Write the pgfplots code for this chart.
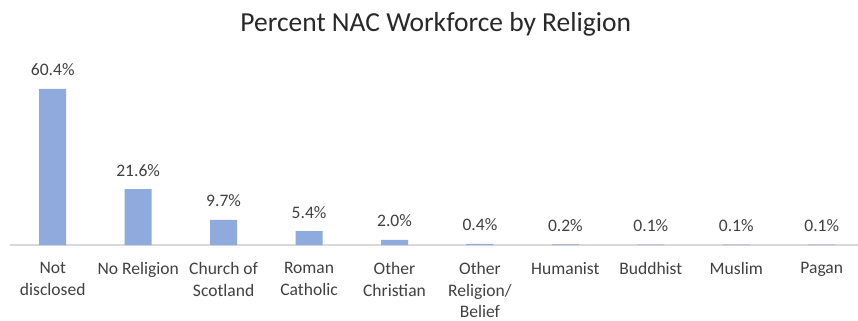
\documentclass[border=0pt]{standalone}
\usepackage{fontspec}
\setmainfont{Carlito}
\usepackage{pgfplots}
\pgfplotsset{compat=1.18}
\definecolor{barblue}{RGB}{143,170,220}
\definecolor{axgray}{RGB}{217,217,217}
\definecolor{txtgray}{RGB}{64,64,64}
\definecolor{titlegray}{RGB}{40,40,40}
\begin{document}
\begin{tikzpicture}
\path[use as bounding box] (0,0) rectangle (858bp,321bp);
\begin{axis}[
  at={(10bp,76bp)}, anchor=south west,
  scale only axis,
  width=847.6bp, height=180.8bp,
  xmin=-0.5, xmax=9.42,
  ymin=0, ymax=70,
  axis x line*=bottom,
  axis y line=none,
  x axis line style={axgray, line width=1.3bp, -},
  xtick={0,1,2,3,4,5,6,7,8,9},
  xticklabels={Not\\disclosed, No Religion, Church of\\Scotland, Roman\\Catholic, Other\\Christian, Other\\Religion/\\Belief, Humanist, Buddhist, Muslim, Pagan},
  major tick length=0pt,
  xticklabel style={align=center, font=\fontsize{17.6}{21.5}\selectfont, text=txtgray, inner sep=0pt, anchor=north, yshift=-17.5bp},
  ytick=\empty,
  clip=false,
  title={Percent NAC Workforce by Religion},
  title style={font=\fontsize{27.6}{32}\selectfont, text=titlegray, anchor=base, inner sep=0pt, at={(0.5,1)}, xshift=2bp, yshift=27bp},
  nodes near coords={\pgfmathprintnumber[fixed,fixed zerofill,precision=1,assume math mode=true]{\pgfplotspointmeta}\%},
  nodes near coords style={font=\fontsize{17.6}{20}\selectfont, text=txtgray, anchor=base, inner sep=0pt, yshift=13bp},
]
\addplot[ybar, bar width=27bp, fill=barblue, draw=none] coordinates {
(0,60.4) (1,21.6) (2,9.7) (3,5.4) (4,2.0) (5,0.4) (6,0.2) (7,0.1) (8,0.1) (9,0.1)
};
\end{axis}
\end{tikzpicture}
\end{document}
